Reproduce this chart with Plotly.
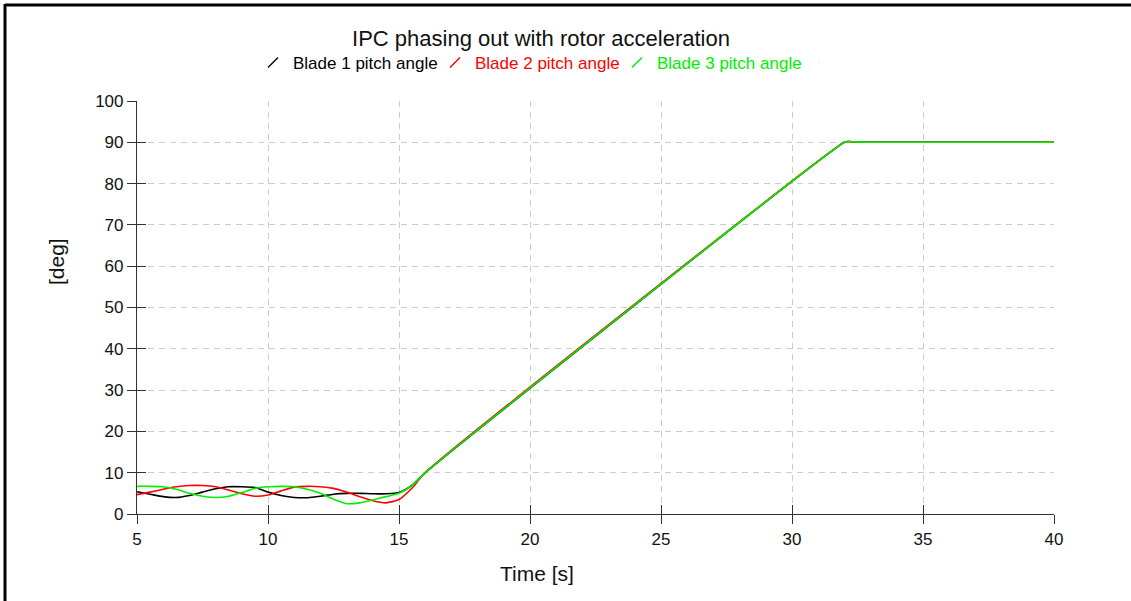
import plotly.graph_objects as go

# Time axis [s]
time_s = [5.0, 5.5, 6.0, 6.5, 7.0, 7.5, 8.0, 8.5, 9.0, 9.5, 10.0, 10.5, 11.0, 11.5,
          12.0, 12.5, 13.0, 13.5, 14.0, 14.5, 15.0, 15.5, 16.0, 32.0, 32.15, 32.4, 33.0, 40.0]

# Pitch angles [deg]
blade1 = [5.4, 4.8, 4.2, 4.0, 4.5, 5.3, 6.1, 6.6, 6.6, 6.4, 5.3, 4.5, 4.0, 3.95,
          4.3, 4.8, 5.0, 5.0, 4.9, 4.9, 5.2, 7.0, 10.0, 90.0, 90.2, 90.1, 90.0, 90.0]
blade2 = [4.7, 5.3, 6.0, 6.6, 6.9, 6.9, 6.6, 5.8, 4.9, 4.3, 4.6, 5.6, 6.5, 6.7,
          6.6, 6.2, 5.3, 4.2, 3.2, 2.7, 3.5, 6.3, 10.0, 90.0, 90.2, 90.1, 90.0, 90.0]
blade3 = [6.7, 6.7, 6.6, 6.0, 5.0, 4.3, 4.0, 4.3, 5.2, 6.2, 6.6, 6.7, 6.6, 6.0,
          5.0, 3.6, 2.5, 2.7, 3.4, 4.2, 5.0, 6.9, 10.0, 90.0, 90.2, 90.1, 90.0, 90.0]

series_names = ["Blade 1 pitch angle", "Blade 2 pitch angle", "Blade 3 pitch angle"]
series_colors = ["#000000", "#ff0000", "#00ee00"]
series_values = [blade1, blade2, blade3]

x_ticks = [5, 10, 15, 20, 25, 30, 35, 40]
y_ticks = [0, 10, 20, 30, 40, 50, 60, 70, 80, 90, 100]

FONT = "Liberation Sans, Arial, sans-serif"

fig = go.Figure()
for name, color, vals in zip(series_names, series_colors, series_values):
    fig.add_trace(go.Scatter(x=time_s, y=vals, mode="lines",
                             line=dict(color=color, width=1.6, shape="spline", smoothing=0.6),
                             showlegend=False, hoverinfo="skip"))
for name, color in zip(series_names, series_colors):
    fig.add_trace(go.Scatter(x=[None], y=[None], mode="markers",
                             marker=dict(symbol="line-ne", size=10,
                                         line=dict(color=color, width=1.4)),
                             name=f"<span style='color:{color}'>{name}</span>"))
# spacer legend entry so the last label is not clipped
fig.add_trace(go.Scatter(x=[None], y=[None], mode="markers", marker=dict(size=1, opacity=0),
                         name=" ", hoverinfo="skip"))
# dummy trace for the inside-tick overlay axes
fig.add_trace(go.Scatter(x=[None], y=[None], xaxis="x2", yaxis="y2", showlegend=False))

L, R, T, B = 137, 77, 101, 87
W, H = 1131, 601
pw, ph = W - L - R, H - T - B

def px_to_paper_x(px):
    return (px - L) / pw

def px_to_paper_y(py):
    return (H - B - py) / ph

axis_common = dict(showline=True, linecolor="#333333", linewidth=1.2,
                   ticks="outside", ticklen=9, tickcolor="#333333", tickwidth=1.2,
                   zeroline=False, tickfont=dict(family=FONT, size=17, color="#111111"))

fig.update_layout(
    width=W, height=H,
    margin=dict(l=L, r=R, t=T, b=B),
    paper_bgcolor="white", plot_bgcolor="white",
    font=dict(family=FONT, color="#111111"),
    title=dict(text="IPC phasing out with rotor acceleration",
               x=px_to_paper_x(541), xref="paper", xanchor="center",
               y=1 - 38 / H, yref="container", yanchor="middle",
               font=dict(family=FONT, size=22, color="#111111")),
    legend=dict(orientation="h", x=px_to_paper_x(253), xanchor="left",
                y=px_to_paper_y(63), yanchor="middle",
                font=dict(family=FONT, size=17), bgcolor="rgba(0,0,0,0)",
                itemwidth=30, tracegroupgap=0, entrywidth=137),
    xaxis=dict(range=[5, 40], tickvals=x_ticks, showgrid=True, gridcolor="#cccccc",
               griddash="6px,5px", gridwidth=1, **axis_common),
    yaxis=dict(range=[0, 100], tickvals=y_ticks, showgrid=True, gridcolor="#cccccc",
               griddash="6px,5px", gridwidth=1, **axis_common),
    xaxis2=dict(range=[5, 40], tickvals=x_ticks, overlaying="x", anchor="y2",
                showline=False, ticks="inside", ticklen=9, tickcolor="#333333", tickwidth=1.2,
                showticklabels=False, showgrid=False, zeroline=False),
    yaxis2=dict(range=[0, 100], tickvals=y_ticks, overlaying="y", anchor="x2",
                showline=False, ticks="inside", ticklen=9, tickcolor="#333333", tickwidth=1.2,
                showticklabels=False, showgrid=False, zeroline=False),
    annotations=[
        dict(text="Time [s]", xref="paper", yref="paper",
             x=px_to_paper_x(537), y=px_to_paper_y(573), xanchor="center", yanchor="middle",
             showarrow=False, font=dict(family=FONT, size=21, color="#111111")),
        dict(text="[deg]", xref="paper", yref="paper", textangle=-90,
             x=px_to_paper_x(56), y=px_to_paper_y(262), xanchor="center", yanchor="middle",
             showarrow=False, font=dict(family=FONT, size=21, color="#111111")),
    ],
    shapes=[
        dict(type="line", xref="paper", yref="paper",
             x0=px_to_paper_x(5), x1=px_to_paper_x(1140), y0=px_to_paper_y(5), y1=px_to_paper_y(5),
             line=dict(color="black", width=3)),
        dict(type="line", xref="paper", yref="paper",
             x0=px_to_paper_x(5), x1=px_to_paper_x(5), y0=px_to_paper_y(4), y1=px_to_paper_y(610),
             line=dict(color="black", width=3)),
    ],
)

fig.write_html("out.html", config={"displayModeBar": False},
               post_script="document.body.style.margin='0px';")
